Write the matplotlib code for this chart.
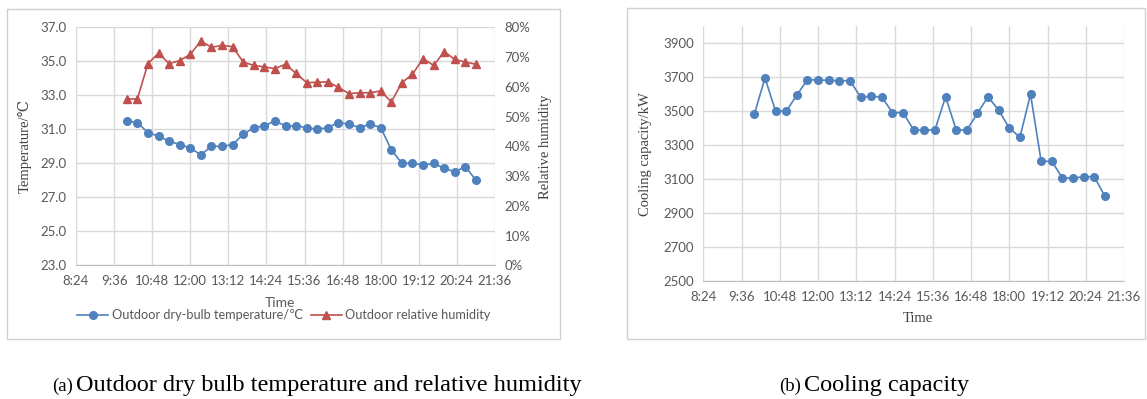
import matplotlib
matplotlib.use("Agg")
import matplotlib.pyplot as plt
from matplotlib.patches import Rectangle

# sample times: every 20 min from 10:00 to 21:00 (in hours)
n_pts = 34
times = [10.0 + k / 3.0 for k in range(n_pts)]

temperature = [31.5, 31.4, 30.8, 30.6, 30.3, 30.1, 29.9, 29.5, 30.0, 30.0,
               30.1, 30.7, 31.1, 31.2, 31.5, 31.2, 31.2, 31.1, 31.0, 31.1,
               31.4, 31.3, 31.1, 31.3, 31.1, 29.8, 29.0, 29.0, 28.9, 29.0,
               28.7, 28.5, 28.8, 28.0]
humidity = [55.9, 55.9, 67.8, 71.3, 67.8, 68.8, 70.9, 75.4, 73.3, 73.9,
            73.5, 68.3, 67.2, 66.7, 66.1, 67.6, 64.5, 61.4, 61.5, 61.7,
            59.8, 57.7, 58.0, 58.0, 58.6, 54.9, 61.4, 64.2, 69.5, 67.2,
            71.8, 69.2, 68.3, 67.6]
cooling = [3484, 3696, 3500, 3500, 3596, 3686, 3684, 3682, 3680, 3680,
           3584, 3588, 3584, 3492, 3492, 3390, 3390, 3390, 3586, 3390,
           3390, 3488, 3586, 3506, 3402, 3347, 3600, 3206, 3206, 3108,
           3108, 3115, 3115, 3000]

xtick_vals = [8.4 + 1.2 * k for k in range(12)]
xtick_labels = ["8:24", "9:36", "10:48", "12:00", "13:12", "14:24", "15:36",
                "16:48", "18:00", "19:12", "20:24", "21:36"]
temp_ticks = [23, 25, 27, 29, 31, 33, 35, 37]
hum_ticks = [0, 10, 20, 30, 40, 50, 60, 70, 80]
cool_ticks = [2500, 2700, 2900, 3100, 3300, 3500, 3700, 3900]

BLUE = "#4F81BD"
RED = "#C0504D"
GRID = "#D9D9D9"
TICK = "#595959"
SANS = ["Lato", "DejaVu Sans"]
SERIF = ["Liberation Serif", "DejaVu Serif"]

W, H = 1147, 399
fig = plt.figure(figsize=(W / 100, H / 100), dpi=100)


def px_axes(x0, y0, x1, y1):
    # pixel box (top-left origin) -> figure axes
    return fig.add_axes([x0 / W, 1 - y1 / H, (x1 - x0) / W, (y1 - y0) / H])


def panel(x0, y0, x1, y1):
    fig.patches.append(Rectangle((x0 / W, 1 - y1 / H), (x1 - x0) / W, (y1 - y0) / H,
                                 transform=fig.transFigure, fill=False,
                                 edgecolor="#D0D0D0", linewidth=1.0))


def style(ax):
    for s in ax.spines.values():
        s.set_visible(False)
    ax.tick_params(length=0, labelsize=9.5, labelcolor=TICK, pad=7)
    ax.grid(True, color=GRID, linewidth=1.0)
    ax.set_axisbelow(True)
    for lab in ax.get_xticklabels() + ax.get_yticklabels():
        lab.set_family(SANS)


panel(7, 9, 560, 339)
panel(627, 8, 1145, 339)

# ---- (a) temperature / humidity ----
ax1 = px_axes(76, 27.3, 495, 265.3)
ax1.plot(times, temperature, color=BLUE, marker="o", markersize=5.5,
         linewidth=1.2, label="Outdoor dry-bulb temperature/\u2103")
ax1.set_xlim(8.4, 21.6)
ax1.set_ylim(23, 37)
ax1.set_xticks(xtick_vals)
ax1.set_xticklabels(xtick_labels)
ax1.set_yticks(temp_ticks)
ax1.set_yticklabels(["%.1f" % v for v in temp_ticks])
style(ax1)
ax1.spines["bottom"].set_visible(True)
ax1.spines["bottom"].set_color("#BFBFBF")
ax1.set_ylabel("Temperature/\u2103", family=SERIF, fontsize=10.5, color="#404040", labelpad=6)

ax2 = ax1.twinx()
ax2.plot(times, humidity, color=RED, marker="^", markersize=6,
         linewidth=1.2, label="Outdoor relative humidity")
ax2.set_ylim(0, 80)
ax2.set_yticks(hum_ticks)
ax2.set_yticklabels(["%d%%" % v for v in hum_ticks])
for s in ax2.spines.values():
    s.set_visible(False)
ax2.tick_params(length=0, labelsize=9.5, labelcolor=TICK, pad=7)
for lab in ax2.get_yticklabels():
    lab.set_family(SANS)
ax2.set_ylabel("Relative humidity", family=SERIF, fontsize=10.5, color="#404040", labelpad=6)

fig.text(280 / W, 1 - 303 / H, "Time", family=SANS, fontsize=10, color=TICK,
         ha="center", va="center")
h1, l1 = ax1.get_legend_handles_labels()
h2, l2 = ax2.get_legend_handles_labels()
leg = fig.legend(h1 + h2, l1 + l2, loc="center", bbox_to_anchor=(284 / W, 1 - 315 / H),
                 ncol=2, frameon=False, handlelength=2.4, columnspacing=0.6,
                 handletextpad=0.3, prop={"family": SANS, "size": 9.2})
for t in leg.get_texts():
    t.set_color(TICK)

# ---- (b) cooling capacity ----
ax3 = px_axes(703.4, 26.3, 1124, 281.3)
ax3.plot(times, cooling, color=BLUE, marker="o", markersize=5.5, linewidth=1.2)
ax3.set_xlim(8.4, 21.6)
ax3.set_ylim(2500, 4000)
ax3.set_xticks(xtick_vals)
ax3.set_xticklabels(xtick_labels)
ax3.set_yticks(cool_ticks)
style(ax3)
ax3.spines["bottom"].set_visible(True)
ax3.spines["bottom"].set_color("#BFBFBF")
ax3.set_ylabel("Cooling capacity/kW", family=SERIF, fontsize=10.5, color="#404040", labelpad=8)
fig.text(918 / W, 1 - 318 / H, "Time", family=SERIF, fontsize=10.5, color="#404040",
         ha="center", va="center")

# ---- captions ----
fig.text(73 / W, 1 - 386 / H, "(a)", family=SERIF, fontsize=13.5, ha="right", va="center")
fig.text(76 / W, 1 - 386 / H, "Outdoor dry bulb temperature and relative humidity",
         family=SERIF, fontsize=17.5, ha="left", va="center")
fig.text(801 / W, 1 - 386 / H, "(b)", family=SERIF, fontsize=13.5, ha="right", va="center")
fig.text(804 / W, 1 - 386 / H, "Cooling capacity", family=SERIF, fontsize=17.5,
         ha="left", va="center")

fig.savefig("out.png", dpi=100)
plt.close(fig)
